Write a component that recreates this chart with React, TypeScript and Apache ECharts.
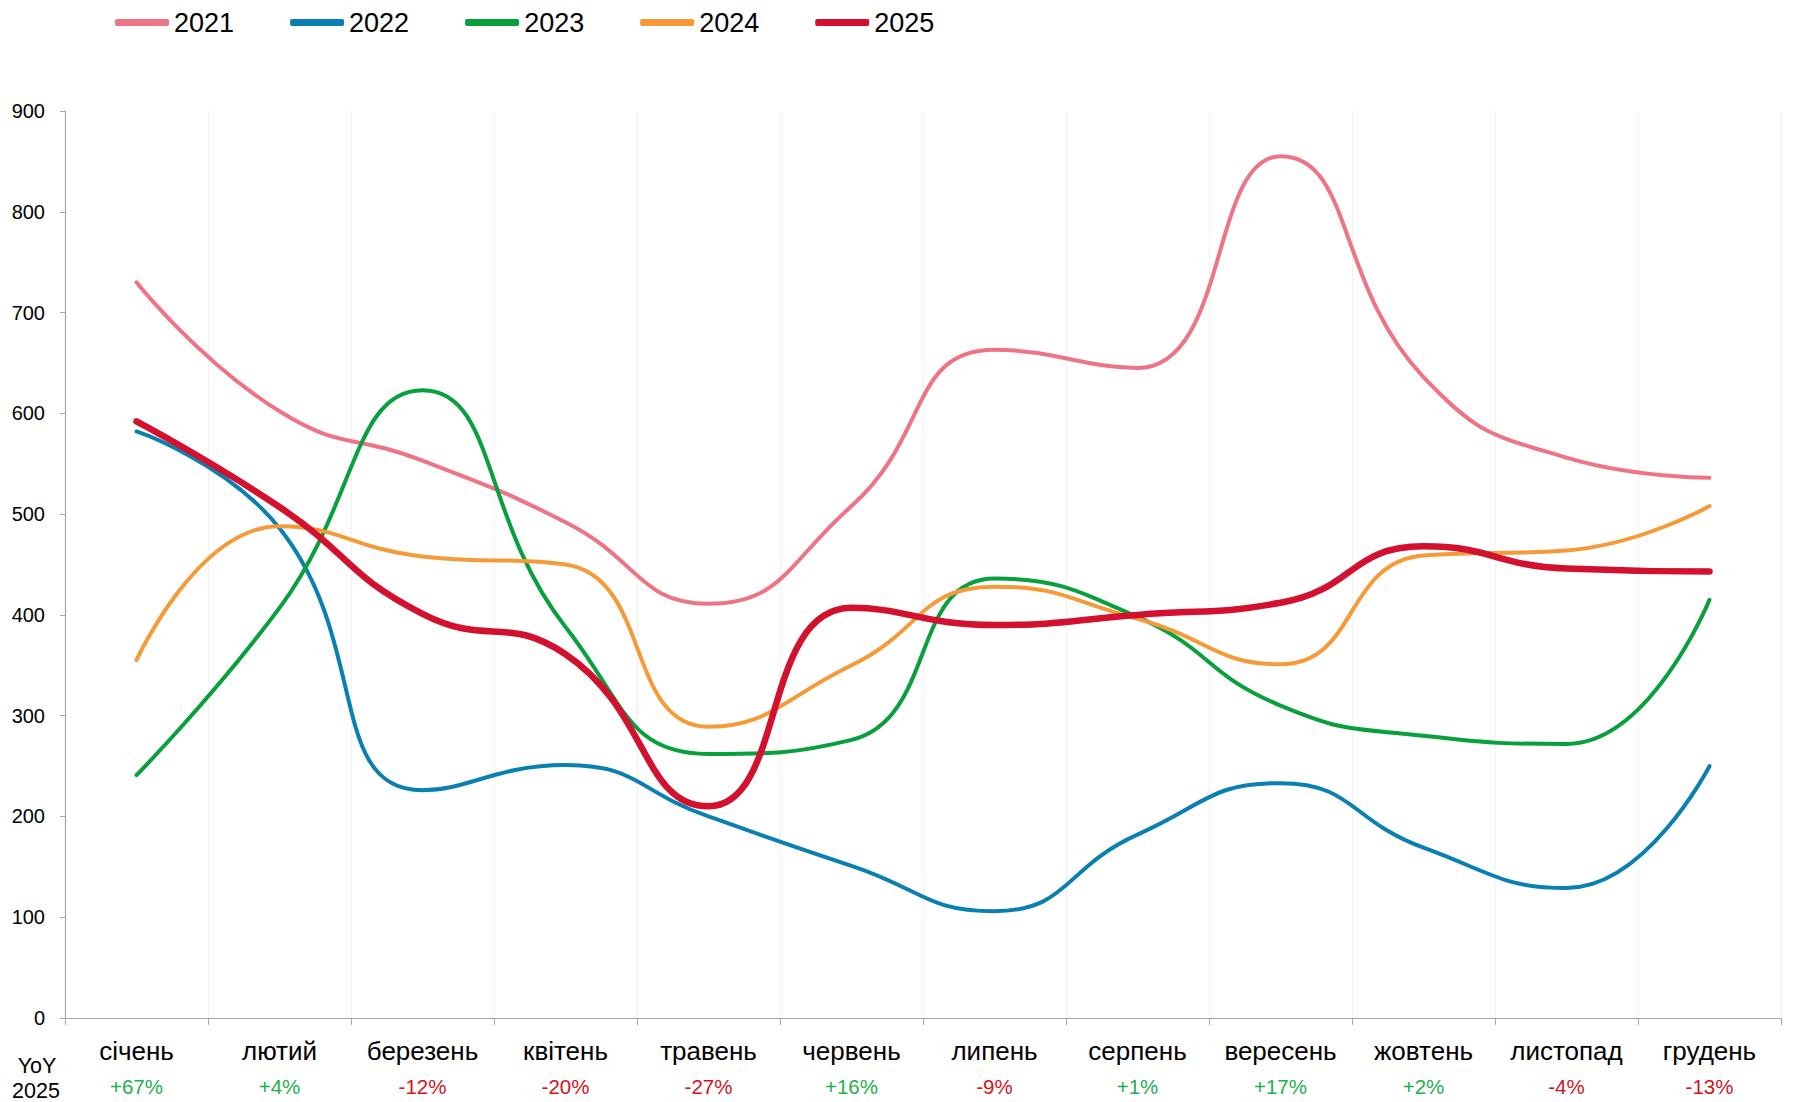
import React, { useEffect, useRef } from "react";
import * as echarts from "echarts";

const months = ["січень", "лютий", "березень", "квітень", "травень", "червень", "липень", "серпень", "вересень", "жовтень", "листопад", "грудень"];
const years = ["2021", "2022", "2023", "2024", "2025"];
const v2021 = [730, 602, 553, 492, 411, 508, 663, 645, 855, 636, 556, 536];
const v2022 = [582, 486, 226, 251, 200, 151, 106, 182, 233, 169, 129, 250];
const v2023 = [241, 407, 623, 388, 262, 276, 436, 398, 310, 280, 272, 415];
const v2024 = [355, 488, 458, 450, 289, 350, 428, 396, 351, 459, 464, 508];
const v2025 = [592, 507, 401, 361, 210, 407, 390, 400, 412, 468, 446, 443];
const yoyLabels = ["+67%", "+4%", "-12%", "-20%", "-27%", "+16%", "-9%", "+1%", "+17%", "+2%", "-4%", "-13%"];
const yTicks = { min: 0, max: 900, interval: 100 };

const colors = ["#ef7384", "#0a7fb2", "#07a03d", "#f59a36", "#d3112f"];
const widths = [4, 4, 4, 4, 6.5];
const seriesData = [v2021, v2022, v2023, v2024, v2025];

export default function App() {
  const ref = useRef<HTMLDivElement>(null);
  useEffect(() => {
    if (!ref.current) return;
    const chart = echarts.init(ref.current, undefined, { renderer: "svg" });
    const font = "'Liberation Sans', Arial, sans-serif";
    chart.setOption({
      animation: false,
      backgroundColor: "#ffffff",
      textStyle: { fontFamily: font },
      legend: {
        left: 110,
        top: 4,
        icon: "roundRect",
        itemWidth: 54,
        itemHeight: 7,
        itemGap: 56,
        textStyle: { fontSize: 27, color: "#000", fontFamily: font },
        data: years,
      },
      grid: { left: 65, right: 12, top: 111, bottom: 84, containLabel: false },
      xAxis: {
        type: "category",
        data: months,
        boundaryGap: true,
        axisLine: { lineStyle: { color: "#a6a6a6", width: 1.2 } },
        axisTick: { show: true, length: 7, lineStyle: { color: "#a6a6a6" } },
        splitLine: { show: true, lineStyle: { color: "#f2f2f2", width: 1 } },
        axisLabel: {
          interval: 0,
          margin: 16,
          formatter: (value: string, index: number) => {
            const lbl = yoyLabels[index];
            const key = lbl.startsWith("-") ? "dn" : "up";
            return `{a|${value}}\n{${key}|${lbl}}`;
          },
          rich: {
            a: { fontSize: 26, lineHeight: 34, color: "#000", fontFamily: font },
            up: { fontSize: 20.5, lineHeight: 36, color: "#22b04b", fontFamily: font },
            dn: { fontSize: 20.5, lineHeight: 36, color: "#d2141c", fontFamily: font },
          },
        },
      },
      yAxis: {
        type: "value",
        min: yTicks.min,
        max: yTicks.max,
        interval: yTicks.interval,
        axisLine: { show: true, lineStyle: { color: "#a6a6a6", width: 1.2 } },
        axisTick: { show: true, length: 5, lineStyle: { color: "#a6a6a6" } },
        splitLine: { show: false },
        axisLabel: { fontSize: 20, color: "#000", margin: 20, fontFamily: font },
      },
      graphic: [
        { type: "text", x: 37, y: 1066, style: { text: "YoY", fontSize: 21.5, fill: "#000", fontFamily: font, align: "center", verticalAlign: "middle" } },
        { type: "text", x: 36, y: 1091, style: { text: "2025", fontSize: 21.5, fill: "#000", fontFamily: font, align: "center", verticalAlign: "middle" } },
      ],
      series: years.map((y, i) => ({
        name: y,
        type: "line",
        data: seriesData[i],
        smooth: 0.5,
        showSymbol: false,
        symbol: "none",
        z: 2 + i,
        itemStyle: { color: colors[i] },
        lineStyle: { color: colors[i], width: widths[i], cap: "round", join: "round" },
      })),
    });
    return () => chart.dispose();
  }, []);
  return <div ref={ref} style={{ width: 1793, height: 1102, position: "absolute", left: 0, top: 0 }} />;
}
